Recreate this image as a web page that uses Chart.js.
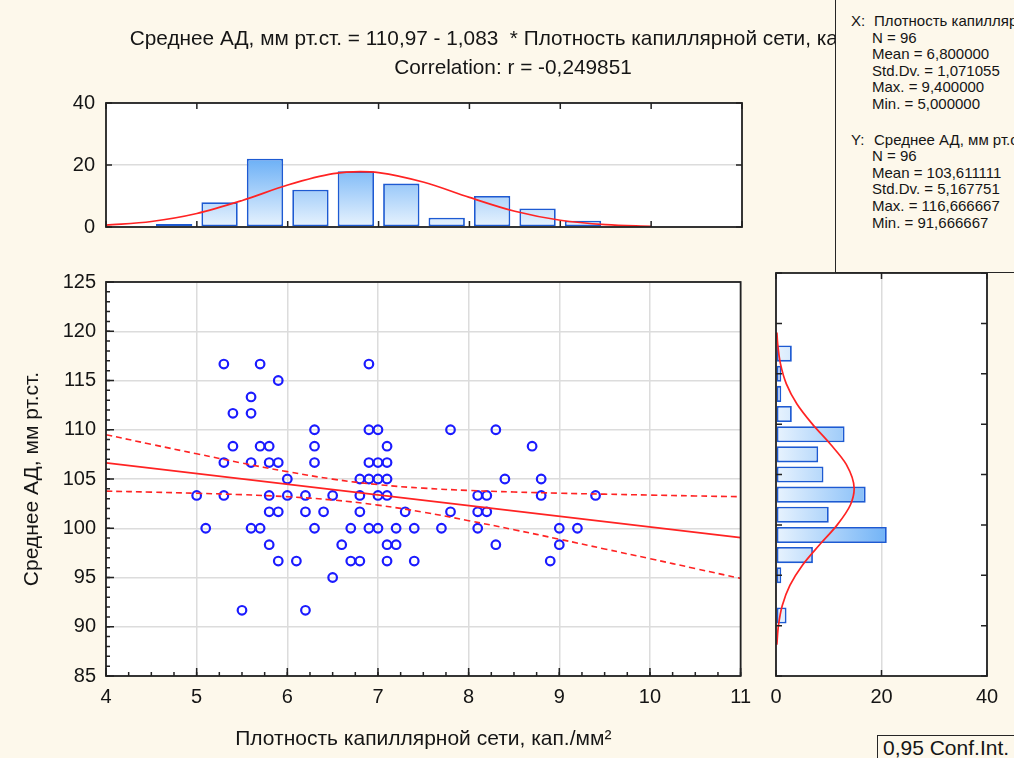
<!DOCTYPE html>
<html lang="ru">
<head>
<meta charset="utf-8">
<title>Среднее АД и плотность капиллярной сети</title>
<script src="https://cdn.jsdelivr.net/npm/chart.js@4.4.1/dist/chart.umd.min.js"></script>
<style>
  html, body { margin: 0; padding: 0; background: #fdf8eb; overflow: hidden; }
  #page { position: relative; width: 1014px; height: 758px; font-family: "Liberation Sans", Arial, sans-serif; color: #151515; }
  canvas { position: absolute; }
  #histTop { left: 0; top: 80px; }
  #scatter { left: 0; top: 260px; }
  #histRight { left: 760px; top: 260px; }
  #title { position: absolute; left: 0; top: 23px; width: 1026px; text-align: center; font-size: 20.8px; line-height: 29px; white-space: pre; z-index: 1; }
  #stats { position: absolute; left: 835px; top: -2px; width: 200px; height: 275px; box-sizing: border-box;
           border: 1.5px solid #262626; background: #fdf8eb; z-index: 2; overflow: hidden;
           font-size: 15px; line-height: 16.6px; white-space: nowrap; padding: 14px 0 0 15px; }
  #stats .row { padding-left: 21px; }
  #stats .head { padding-left: 0; }
  #stats .head span { display: inline-block; width: 23px; }
  #stats .gap { height: 19px; }
  #ci { position: absolute; left: 877px; top: 735px; width: 160px; height: 40px; box-sizing: border-box;
        border: 1.5px solid #262626; background: #fdf8eb; font-size: 21px; line-height: 24px; padding: 0 0 0 5px; z-index: 2; }
</style>
</head>
<body>
<div id="page">
  <div id="title">Среднее АД, мм рт.ст. = 110,97 - 1,083  * Плотность капиллярной сети, кап./мм²
Correlation: r = -0,249851</div>

  <canvas id="histTop" width="760" height="170"></canvas>
  <canvas id="scatter" width="760" height="498"></canvas>
  <canvas id="histRight" width="254" height="498"></canvas>

  <div id="stats">
    <div class="head"><span>X:</span>Плотность капиллярной сети, кап./мм²</div>
    <div class="row">N = 96</div>
    <div class="row">Mean = 6,800000</div>
    <div class="row">Std.Dv. = 1,071055</div>
    <div class="row">Max. = 9,400000</div>
    <div class="row">Min. = 5,000000</div>
    <div class="gap"></div>
    <div class="head"><span>Y:</span>Среднее АД, мм рт.ст.</div>
    <div class="row">N = 96</div>
    <div class="row">Mean = 103,611111</div>
    <div class="row">Std.Dv. = 5,167751</div>
    <div class="row">Max. = 116,666667</div>
    <div class="row">Min. = 91,666667</div>
  </div>

  <div id="ci">0,95 Conf.Int.</div>
</div>

<script>
// плотность капиллярной сети (кап./мм2) и среднее АД для каждого наблюдения
const capDensity = [
  5.3, 5.7, 6.9,
  5.9,
  5.6,
  5.4, 5.6,
  6.3, 6.9, 7.0, 7.8, 8.3,
  5.4, 5.7, 5.8, 6.3, 7.1, 8.7,
  5.3, 5.6, 5.8, 5.9, 6.3, 6.9, 7.0, 7.1,
  6.0, 6.8, 6.9, 7.0, 7.1, 8.4, 8.8,
  5.0, 5.3, 5.8, 6.0, 6.2, 6.5, 6.8, 7.0, 7.1, 8.1, 8.2, 8.8, 9.4,
  5.8, 5.9, 6.2, 6.4, 6.8, 7.3, 7.8, 8.1, 8.2,
  5.1, 5.6, 5.7, 6.3, 6.7, 6.9, 7.0, 7.2, 7.4, 7.7, 8.1, 9.0, 9.2,
  5.8, 6.6, 7.1, 7.2, 8.3, 9.0,
  5.9, 6.1, 6.7, 6.8, 7.1, 7.4, 8.9,
  6.5,
  5.5, 6.2
];
const meanBP = [
  116.67, 116.67, 116.67,
  115,
  113.33,
  111.67, 111.67,
  110, 110, 110, 110, 110,
  108.33, 108.33, 108.33, 108.33, 108.33, 108.33,
  106.67, 106.67, 106.67, 106.67, 106.67, 106.67, 106.67, 106.67,
  105, 105, 105, 105, 105, 105, 105,
  103.33, 103.33, 103.33, 103.33, 103.33, 103.33, 103.33, 103.33, 103.33, 103.33, 103.33, 103.33, 103.33,
  101.67, 101.67, 101.67, 101.67, 101.67, 101.67, 101.67, 101.67, 101.67,
  100, 100, 100, 100, 100, 100, 100, 100, 100, 100, 100, 100, 100,
  98.33, 98.33, 98.33, 98.33, 98.33, 98.33,
  96.67, 96.67, 96.67, 96.67, 96.67, 96.67, 96.67,
  95,
  91.67, 91.67
];

// линия регрессии: АД = 110,97 - 1,083 * плотность
const fitIntercept = 110.97;
const fitSlope = -1.083;
const fitRange = [4, 11];

// 95% доверительный интервал линии регрессии
const bandX     = [4, 4.5, 5, 5.5, 6, 6.5, 7, 7.5, 8, 8.5, 9, 9.5, 10, 10.5, 11];
const bandUpper = [109.50, 108.52, 107.56, 106.62, 105.75, 104.99, 104.43, 104.07, 103.84, 103.68, 103.56, 103.46, 103.37, 103.28, 103.20];
const bandLower = [103.77, 103.67, 103.55, 103.41, 103.20, 102.87, 102.35, 101.63, 100.77, 99.85, 98.89, 97.90, 96.91, 95.91, 94.91];

// гистограмма по X (шаг 0,5) и нормальная кривая
const xBinCenters = [4.75, 5.25, 5.75, 6.25, 6.75, 7.25, 7.75, 8.25, 8.75, 9.25];
const xBinCounts  = [1, 8, 22, 12, 18, 14, 3, 10, 6, 2];
const xCurveAt    = [4, 4.5, 5, 5.5, 6, 6.5, 6.8, 7, 7.5, 8, 8.5, 9, 9.5, 10];
const xCurveFreq  = [0.59, 1.78, 4.36, 8.56, 13.53, 17.19, 17.88, 17.57, 14.44, 9.55, 5.07, 2.17, 0.75, 0.21];

// гистограмма по Y (шаг 2) и нормальная кривая
const yBinCenters = [91, 93, 95, 97, 99, 101, 103, 105, 107, 109, 111, 113, 115, 117];
const yBinCounts  = [2, 0, 1, 7, 21, 10, 17, 9, 8, 13, 3, 1, 1, 3];
const yCurveAt    = [88.1, 90, 92, 94, 96, 98, 100, 102, 103.6, 106, 108, 110, 112, 114, 116, 118, 119.1];
const yCurveFreq  = [0.16, 0.46, 1.19, 2.63, 5.01, 8.22, 11.61, 14.12, 14.82, 13.32, 10.33, 6.90, 3.97, 1.96, 0.84, 0.31, 0.17];

const xTicksMain = { min: 4, max: 11, step: 1 };
const yTicksMain = { min: 85, max: 125, step: 5 };
const countTicks = { min: 0, max: 40, step: 20 };

Chart.defaults.font.family = '"Liberation Sans", Arial, sans-serif';
Chart.defaults.color = '#151515';

const RED = '#ff2323';
const BLUE_PT = '#1b1bff';
const BAR_EDGE = '#1d5ad2';
const GRID = '#dcdcdc';
const tickFont = { size: 20 };
const titleFont = { size: 21 };

// белое поле графика, рамка и внутренние риски
const framePlugin = {
  id: 'frame',
  beforeDraw(chart) {
    const { ctx, chartArea: a } = chart;
    ctx.save();
    ctx.fillStyle = '#ffffff';
    ctx.fillRect(a.left, a.top, a.width, a.height);
    ctx.restore();
  },
  afterDatasetsDraw(chart, args, opts) {
    const { ctx, chartArea: a } = chart;
    ctx.save();
    ctx.strokeStyle = '#222';
    ctx.lineWidth = 1.5;
    (opts.marks || []).forEach(m => {
      const s = chart.scales[m.scale];
      const n = Math.round((s.max - s.min) / m.step);
      ctx.beginPath();
      for (let i = 0; i <= n; i++) {
        const p = s.getPixelForValue(s.min + i * m.step);
        if (m.edge === 'bottom') { ctx.moveTo(p, a.bottom); ctx.lineTo(p, a.bottom - m.len); }
        if (m.edge === 'top')    { ctx.moveTo(p, a.top);    ctx.lineTo(p, a.top + m.len); }
        if (m.edge === 'left')   { ctx.moveTo(a.left, p);   ctx.lineTo(a.left + m.len, p); }
        if (m.edge === 'right')  { ctx.moveTo(a.right, p);  ctx.lineTo(a.right - m.len, p); }
      }
      ctx.stroke();
    });
    ctx.lineWidth = 1.8;
    ctx.strokeRect(a.left, a.top, a.width, a.height);
    ctx.restore();
  }
};

// градиентная заливка столбиков, от бледного к насыщенному голубому
function barGradient(horizontal) {
  let cache = null;
  return ctx => {
    const a = ctx.chart.chartArea;
    if (!a) return '#cfe5fb';
    if (!cache) {
      const g = horizontal
        ? ctx.chart.ctx.createLinearGradient(a.left, 0, a.right, 0)
        : ctx.chart.ctx.createLinearGradient(0, a.bottom, 0, a.top);
      g.addColorStop(0, '#e8f3fe');
      g.addColorStop(0.55, '#6cb0f6');
      g.addColorStop(1, '#3d92ee');
      cache = g;
    }
    return cache;
  };
}

const scatterPoints = capDensity.map((x, i) => ({ x: x, y: meanBP[i] }));
const fitLine = fitRange.map(x => ({ x: x, y: fitIntercept + fitSlope * x }));
const upperBand = bandX.map((x, i) => ({ x: x, y: bandUpper[i] }));
const lowerBand = bandX.map((x, i) => ({ x: x, y: bandLower[i] }));

// основная диаграмма рассеяния
new Chart(document.getElementById('scatter'), {
  type: 'scatter',
  data: {
    datasets: [
      { type: 'line', data: fitLine, borderColor: RED, borderWidth: 1.8, pointRadius: 0, fill: false },
      { type: 'line', data: upperBand, borderColor: RED, borderWidth: 1.6, borderDash: [6, 4], pointRadius: 0, tension: 0.4, fill: false },
      { type: 'line', data: lowerBand, borderColor: RED, borderWidth: 1.6, borderDash: [6, 4], pointRadius: 0, tension: 0.4, fill: false },
      { data: scatterPoints, pointStyle: 'circle', pointRadius: 4.3, borderWidth: 2.2,
        borderColor: BLUE_PT, backgroundColor: 'rgba(0,0,0,0)' }
    ]
  },
  plugins: [framePlugin],
  options: {
    responsive: false,
    animation: false,
    layout: { padding: { top: 13, right: 18, bottom: 0, left: 0 } },
    plugins: {
      legend: { display: false },
      tooltip: { enabled: false },
      frame: {
        marks: [
          { scale: 'x', edge: 'bottom', step: 0.25, len: 4 },
          { scale: 'x', edge: 'bottom', step: 1, len: 8 },
          { scale: 'y', edge: 'left', step: 1, len: 4 },
          { scale: 'y', edge: 'left', step: 5, len: 8 }
        ]
      }
    },
    scales: {
      x: {
        type: 'linear', min: xTicksMain.min, max: xTicksMain.max,
        ticks: { stepSize: xTicksMain.step, font: tickFont, padding: 9 },
        grid: { color: GRID, lineWidth: 1.5, drawTicks: false },
        border: { display: false },
        title: { display: true, text: 'Плотность капиллярной сети, кап./мм²', font: titleFont, padding: { top: 0, bottom: 6 } },
        afterFit: s => { s.height = 82; }
      },
      y: {
        type: 'linear', min: yTicksMain.min, max: yTicksMain.max,
        ticks: { stepSize: yTicksMain.step, font: tickFont, padding: 10 },
        grid: { color: GRID, lineWidth: 1.5, drawTicks: false },
        border: { display: false },
        title: { display: true, text: 'Среднее АД, мм рт.ст.', font: titleFont, padding: { top: 20, bottom: 0 } },
        afterFit: s => { s.width = 106; }
      }
    }
  }
});

// гистограмма плотности капиллярной сети (сверху)
new Chart(document.getElementById('histTop'), {
  type: 'bar',
  data: {
    datasets: [
      { type: 'line', data: xCurveAt.map((x, i) => ({ x: x, y: xCurveFreq[i] })),
        borderColor: RED, borderWidth: 1.7, pointRadius: 0, cubicInterpolationMode: 'monotone', fill: false },
      { data: xBinCenters.map((x, i) => ({ x: x, y: xBinCounts[i] })),
        backgroundColor: barGradient(false), borderColor: BAR_EDGE, borderWidth: 1.8, borderSkipped: false,
        barPercentage: 0.8, categoryPercentage: 1 }
    ]
  },
  plugins: [framePlugin],
  options: {
    responsive: false,
    animation: false,
    layout: { padding: { top: 18, right: 18, bottom: 19, left: 0 } },
    plugins: {
      legend: { display: false },
      tooltip: { enabled: false },
      frame: {
        marks: [
          { scale: 'x', edge: 'top', step: 1, len: 6 },
          { scale: 'x', edge: 'bottom', step: 1, len: 6 },
          { scale: 'y', edge: 'left', step: 20, len: 6 },
          { scale: 'y', edge: 'right', step: 20, len: 6 }
        ]
      }
    },
    scales: {
      x: { type: 'linear', min: xTicksMain.min, max: xTicksMain.max, offset: false, display: false },
      y: {
        type: 'linear', min: countTicks.min, max: countTicks.max,
        ticks: { stepSize: countTicks.step, font: tickFont, padding: 11 },
        grid: { color: GRID, lineWidth: 1.5, drawTicks: false },
        border: { display: false },
        afterFit: s => { s.width = 106; }
      }
    }
  }
});

// гистограмма среднего АД (справа), столбики горизонтальные
new Chart(document.getElementById('histRight'), {
  type: 'bar',
  data: {
    datasets: [
      { type: 'line', indexAxis: 'y', data: yCurveAt.map((y, i) => ({ x: yCurveFreq[i], y: y })),
        borderColor: RED, borderWidth: 1.7, pointRadius: 0, cubicInterpolationMode: 'monotone', fill: false },
      { indexAxis: 'y', data: yBinCenters.map((y, i) => ({ x: yBinCounts[i], y: y })),
        backgroundColor: barGradient(true), borderColor: BAR_EDGE, borderWidth: 1.8, borderSkipped: false,
        barPercentage: 0.8, categoryPercentage: 1 }
    ]
  },
  plugins: [framePlugin],
  options: {
    indexAxis: 'y',
    responsive: false,
    animation: false,
    layout: { padding: { top: 13, right: 27, bottom: 0, left: 16 } },
    plugins: {
      legend: { display: false },
      tooltip: { enabled: false },
      frame: {
        marks: [
          { scale: 'y', edge: 'left', step: 5, len: 6 },
          { scale: 'y', edge: 'right', step: 5, len: 6 },
          { scale: 'x', edge: 'top', step: 20, len: 6 },
          { scale: 'x', edge: 'bottom', step: 20, len: 6 }
        ]
      }
    },
    scales: {
      x: {
        type: 'linear', min: countTicks.min, max: countTicks.max,
        ticks: { stepSize: countTicks.step, font: tickFont, padding: 9 },
        grid: { color: GRID, lineWidth: 1.5, drawTicks: false },
        border: { display: false },
        afterFit: s => { s.height = 82; }
      },
      y: { type: 'linear', min: yTicksMain.min, max: yTicksMain.max, offset: false, display: false }
    }
  }
});
</script>
</body>
</html>
